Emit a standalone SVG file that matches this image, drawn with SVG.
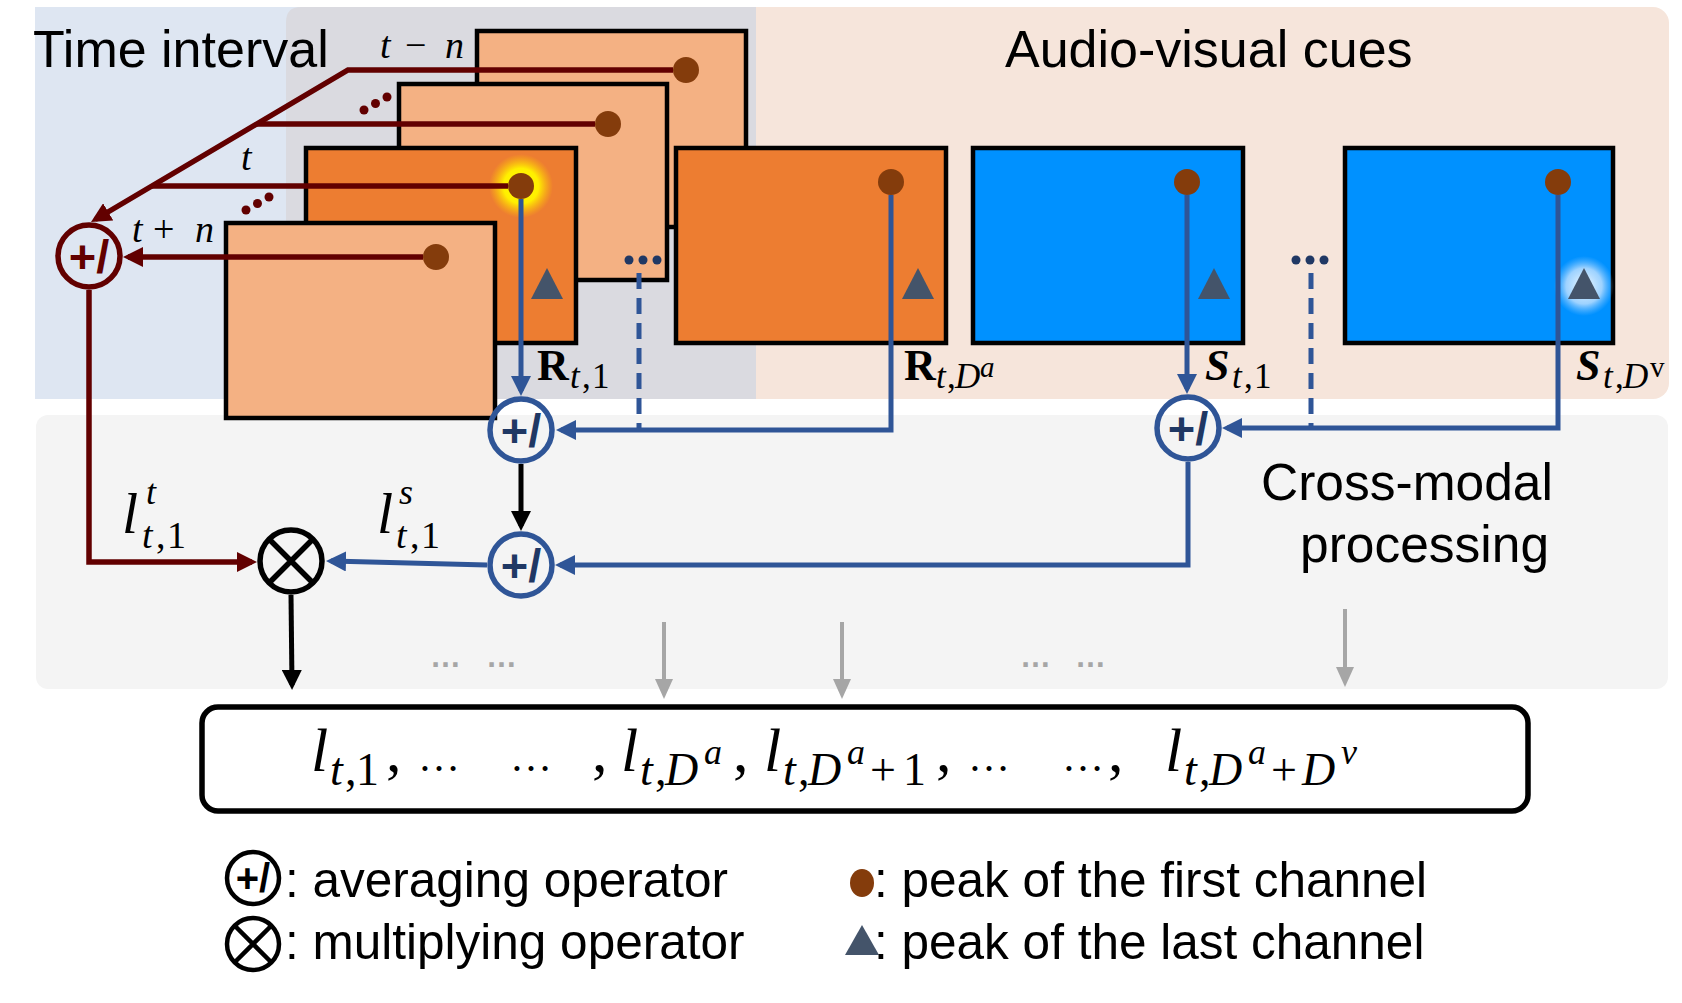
<svg xmlns="http://www.w3.org/2000/svg" width="1682" height="1003" viewBox="0 0 1682 1003">
<defs>
<style>
.sans{font-family:"Liberation Sans",Arial,sans-serif;fill:#000}
.m{font-family:"Liberation Serif","Times New Roman",serif;font-style:italic;fill:#000}
.up{font-style:normal}
.bd{font-weight:bold}
.fl{fill:#f4b183;stroke:#000;stroke-width:4.5}
.fd{fill:#ed7d31;stroke:#000;stroke-width:4.5}
.fb{fill:#0091ff;stroke:#000;stroke-width:4.5}
.dot{fill:#843c0c}
.tri{fill:#44546a}
.red{fill:none;stroke:#620000;stroke-width:5.5}
.blu{fill:none;stroke:#2f5597;stroke-width:5}
.dash{stroke-dasharray:16 9}
.blk{fill:none;stroke:#000;stroke-width:5}
.gry{fill:none;stroke:#a6a6a6;stroke-width:4}
.op{font-family:"Liberation Sans",Arial,sans-serif;font-weight:bold;font-size:47px;text-anchor:middle}
.rdot{fill:#620000}
.bdot{fill:#203864}
</style>
<marker id="arR" markerUnits="userSpaceOnUse" viewBox="0 0 20 20" markerWidth="20" markerHeight="20" refX="15" refY="10" orient="auto"><path d="M0,0 L20,10 L0,20 Z" fill="#620000"/></marker>
<marker id="arB" markerUnits="userSpaceOnUse" viewBox="0 0 20 20" markerWidth="20" markerHeight="20" refX="15" refY="10" orient="auto"><path d="M0,0 L20,10 L0,20 Z" fill="#2f5597"/></marker>
<marker id="arK" markerUnits="userSpaceOnUse" viewBox="0 0 20 20" markerWidth="20" markerHeight="20" refX="15" refY="10" orient="auto"><path d="M0,0 L20,10 L0,20 Z" fill="#000"/></marker>
<marker id="arG" markerUnits="userSpaceOnUse" viewBox="0 0 20 20" markerWidth="20" markerHeight="20" refX="15" refY="10" orient="auto"><path d="M0,1 L20,10 L0,19 Z" fill="#a6a6a6"/></marker>
<radialGradient id="yg"><stop offset="0" stop-color="#ffff00"/><stop offset="0.55" stop-color="#ffef00"/><stop offset="1" stop-color="#ffc800" stop-opacity="0"/></radialGradient>
<radialGradient id="wg"><stop offset="0" stop-color="#ffffff" stop-opacity="0.95"/><stop offset="0.6" stop-color="#d2e8ff" stop-opacity="0.75"/><stop offset="1" stop-color="#8cc8ff" stop-opacity="0"/></radialGradient>
</defs>

<g id="background">
<rect x="35" y="7" width="300" height="392" fill="#dee6f2"/>
<rect x="700" y="7" width="969" height="392" rx="16" fill="#f6e5db"/>
<path d="M286,22 Q286,7 301,7 H756 V399 H286 Z" fill="#dadae0"/>
<rect x="36" y="415" width="1632" height="274" rx="12" fill="#f4f4f4"/>
<text class="sans" x="33" y="67" font-size="52">Time interval</text>
<text class="sans" x="1005" y="67" font-size="52">Audio-visual cues</text>
<text class="sans" x="1261" y="500" font-size="51.5">Cross-modal</text>
<text class="sans" x="1300" y="562" font-size="51.5">processing</text>
</g>

<g id="frame-t-minus-n">
<rect class="fl" x="477" y="31" width="269" height="196"/>
<circle class="dot" cx="686" cy="70" r="13"/>
</g>
<g id="frame-t-mid">
<rect class="fl" x="399" y="84" width="268" height="196"/>
<circle class="dot" cx="608" cy="124" r="13"/>
<circle class="bdot" cx="629" cy="260" r="4.5"/>
<circle class="bdot" cx="643" cy="260" r="4.5"/>
<circle class="bdot" cx="657" cy="260" r="4.5"/>
</g>
<g id="frame-R-t-1">
<rect class="fd" x="306" y="148" width="270" height="195"/>
<circle cx="521" cy="186" r="32" fill="url(#yg)"/>
<circle class="dot" cx="521" cy="186" r="13"/>
<polygon class="tri" points="531,299 563,299 547,268"/>
</g>
<g id="frame-t-plus-n">
<rect class="fl" x="226" y="223" width="269" height="195"/>
<circle class="dot" cx="436" cy="257" r="13"/>
</g>
<g id="box-R-t-Da">
<rect class="fd" x="676" y="148" width="270" height="195"/>
<circle class="dot" cx="891" cy="182" r="13"/>
<polygon class="tri" points="902,299 934,299 918,268"/>
</g>
<g id="box-S-t-1">
<rect class="fb" x="973" y="148" width="270" height="195"/>
<circle class="dot" cx="1187" cy="182" r="13"/>
<polygon class="tri" points="1198,299 1230,299 1214,268"/>
</g>
<g id="box-dots">
<circle class="bdot" cx="1296" cy="260" r="4.5"/>
<circle class="bdot" cx="1310" cy="260" r="4.5"/>
<circle class="bdot" cx="1324" cy="260" r="4.5"/>
</g>
<g id="box-S-t-Dv">
<rect class="fb" x="1345" y="148" width="268" height="195"/>
<circle cx="1584" cy="286" r="30" fill="url(#wg)"/>
<circle class="dot" cx="1558" cy="182" r="13"/>
<polygon class="tri" points="1568,299 1600,299 1584,268"/>
</g>

<g id="connectors">
<path class="red" d="M673,70 H348 L95.3,219.5" marker-end="url(#arR)"/>
<path class="red" d="M595,124 H257"/>
<path class="red" d="M508,186 H152"/>
<path class="red" d="M423,257 H128" marker-end="url(#arR)"/>
<path class="red" d="M89,290 V562 H252" marker-end="url(#arR)"/>
<path class="blu" d="M521,199 V391" marker-end="url(#arB)"/>
<path class="blu dash" d="M639,273 V430"/>
<path class="blu" d="M891,195 V430 H561" marker-end="url(#arB)"/>
<path class="blu" d="M1187,195 V389" marker-end="url(#arB)"/>
<path class="blu dash" d="M1311,273 V428"/>
<path class="blu" d="M1558,195 V428 H1227" marker-end="url(#arB)"/>
<path class="blu" d="M1188,462 V565 H560" marker-end="url(#arB)"/>
<path class="blu" d="M487,565 L331,561.1" marker-end="url(#arB)"/>
<path class="blk" d="M521,464 V526" marker-end="url(#arK)"/>
<path class="blk" d="M291,595 L292,685" marker-end="url(#arK)"/>
<path class="gry" d="M664,622 V694" marker-end="url(#arG)"/>
<path class="gry" d="M842,622 V694" marker-end="url(#arG)"/>
<path class="gry" d="M1345,609 V682" marker-end="url(#arG)"/>
<circle class="rdot" cx="364" cy="110" r="4.5"/>
<circle class="rdot" cx="375.5" cy="103.5" r="4.5"/>
<circle class="rdot" cx="387" cy="97" r="4.5"/>
<circle class="rdot" cx="246" cy="210" r="4.5"/>
<circle class="rdot" cx="257.5" cy="203.5" r="4.5"/>
<circle class="rdot" cx="269" cy="197" r="4.5"/>
</g>

<g id="op-time-avg">
<circle cx="89" cy="256" r="31" fill="none" stroke="#620000" stroke-width="5.5"/>
<text class="op" x="89" y="273" fill="#620000">+/</text>
</g>
<g id="op-audio-avg">
<circle cx="521" cy="430" r="31" fill="none" stroke="#2f5597" stroke-width="5.5"/>
<text class="op" x="521" y="447" fill="#1f3864">+/</text>
</g>
<g id="op-spatial-avg">
<circle cx="521" cy="565" r="31" fill="none" stroke="#2f5597" stroke-width="5.5"/>
<text class="op" x="521" y="582" fill="#1f3864">+/</text>
</g>
<g id="op-visual-avg">
<circle cx="1188" cy="428" r="31" fill="none" stroke="#2f5597" stroke-width="5.5"/>
<text class="op" x="1188" y="445" fill="#1f3864">+/</text>
</g>
<g id="op-mult">
<circle cx="291" cy="561" r="31" fill="none" stroke="#000" stroke-width="5.5"/>
<path d="M269,539 L313,583 M313,539 L269,583" stroke="#000" stroke-width="5.5"/>
</g>

<g id="gray-dots" class="sans" font-size="31" font-weight="bold">
<text x="430" y="667" fill="#a6a6a6">…</text>
<text x="486" y="667" fill="#a6a6a6">…</text>
<text x="1020" y="667" fill="#a6a6a6">…</text>
<text x="1075" y="667" fill="#a6a6a6">…</text>
</g>

<g id="labels">
<text class="m" y="58" font-size="38"><tspan x="380">t</tspan><tspan class="up" x="405">−</tspan><tspan x="445">n</tspan></text>
<text class="m" x="241" y="170" font-size="38">t</text>
<text class="m" y="242" font-size="38"><tspan x="132">t</tspan><tspan class="up" x="153">+</tspan><tspan x="195">n</tspan></text>

<text class="m"><tspan class="up bd" x="537" y="380" font-size="44">R</tspan><tspan x="570" y="388" font-size="35">t</tspan><tspan class="up" x="582" font-size="35">,</tspan><tspan class="up" x="592" font-size="35">1</tspan></text>

<text class="m"><tspan class="up bd" x="904" y="380" font-size="44">R</tspan><tspan x="936" y="388" font-size="35">t</tspan><tspan class="up" x="947" font-size="35">,</tspan><tspan x="955" font-size="35">D</tspan><tspan x="980" y="377" font-size="29">a</tspan></text>

<text class="m"><tspan class="bd" x="1205" y="380" font-size="44">S</tspan><tspan x="1232" y="388" font-size="35">t</tspan><tspan class="up" x="1244" font-size="35">,</tspan><tspan class="up" x="1254" font-size="35">1</tspan></text>

<text class="m"><tspan class="bd" x="1576" y="380" font-size="44">S</tspan><tspan x="1603" y="388" font-size="35">t</tspan><tspan class="up" x="1615" font-size="35">,</tspan><tspan x="1623" font-size="35">D</tspan><tspan class="up" x="1650" y="377" font-size="29">v</tspan></text>

<text class="m" x="122" y="533" font-size="58">l</text>
<text class="m" x="146" y="504" font-size="36">t</text>
<text class="m" y="548" font-size="38"><tspan x="142">t</tspan><tspan class="up" x="156">,</tspan><tspan class="up" x="167">1</tspan></text>

<text class="m" x="377" y="533" font-size="58">l</text>
<text class="m" x="399" y="504" font-size="36">s</text>
<text class="m" y="548" font-size="38"><tspan x="396">t</tspan><tspan class="up" x="410">,</tspan><tspan class="up" x="421">1</tspan></text>
</g>

<g id="output-box">
<rect x="202" y="707" width="1326" height="104" rx="16" fill="#fff" stroke="#000" stroke-width="5.5"/>
<text class="m">
<tspan x="311" y="771" font-size="62">l</tspan><tspan x="330" y="785" font-size="46">t</tspan><tspan class="up" x="345" font-size="46">,</tspan><tspan class="up" x="356" font-size="46">1</tspan><tspan class="up" x="386" y="771" font-size="62">,</tspan><tspan class="up" x="418" font-size="42">…</tspan><tspan class="up" x="510" font-size="42">…</tspan><tspan class="up" x="592" font-size="62">,</tspan><tspan x="621" font-size="62">l</tspan><tspan x="640" y="785" font-size="46">t</tspan><tspan class="up" x="655" font-size="46">,</tspan><tspan x="665" font-size="46">D</tspan><tspan x="704" y="764" font-size="36">a</tspan><tspan class="up" x="733" y="771" font-size="62">,</tspan><tspan x="764" font-size="62">l</tspan><tspan x="783" y="785" font-size="46">t</tspan><tspan class="up" x="798" font-size="46">,</tspan><tspan x="808" font-size="46">D</tspan><tspan x="847" y="764" font-size="36">a</tspan><tspan class="up" x="870" y="785" font-size="46">+</tspan><tspan class="up" x="903" font-size="46">1</tspan><tspan class="up" x="936" y="771" font-size="62">,</tspan><tspan class="up" x="968" font-size="42">…</tspan><tspan class="up" x="1062" font-size="42">…</tspan><tspan class="up" x="1108" font-size="62">,</tspan><tspan x="1165" font-size="62">l</tspan><tspan x="1184" y="785" font-size="46">t</tspan><tspan class="up" x="1199" font-size="46">,</tspan><tspan x="1209" font-size="46">D</tspan><tspan x="1248" y="764" font-size="36">a</tspan><tspan class="up" x="1271" y="785" font-size="46">+</tspan><tspan x="1302" font-size="46">D</tspan><tspan x="1341" y="764" font-size="36">v</tspan>
</text>
</g>

<g id="legend">
<circle cx="253" cy="878" r="26" fill="none" stroke="#000" stroke-width="4.5"/>
<text class="op" x="253" y="892" style="font-size:40px">+/</text>
<text class="sans" x="285" y="897" font-size="49.5">: averaging operator</text>
<circle cx="253" cy="944" r="26" fill="none" stroke="#000" stroke-width="4.5"/>
<path d="M235,926 L271,962 M271,926 L235,962" stroke="#000" stroke-width="4.5"/>
<text class="sans" x="285" y="959" font-size="49.5">: multiplying operator</text>
<ellipse cx="862" cy="883" rx="12" ry="14" fill="#843c0c"/>
<text class="sans" x="874" y="897" font-size="49.5">: peak of the first channel</text>
<polygon class="tri" points="845,955 879,955 862,925"/>
<text class="sans" x="874" y="959" font-size="49.5">: peak of the last channel</text>
</g>
</svg>
